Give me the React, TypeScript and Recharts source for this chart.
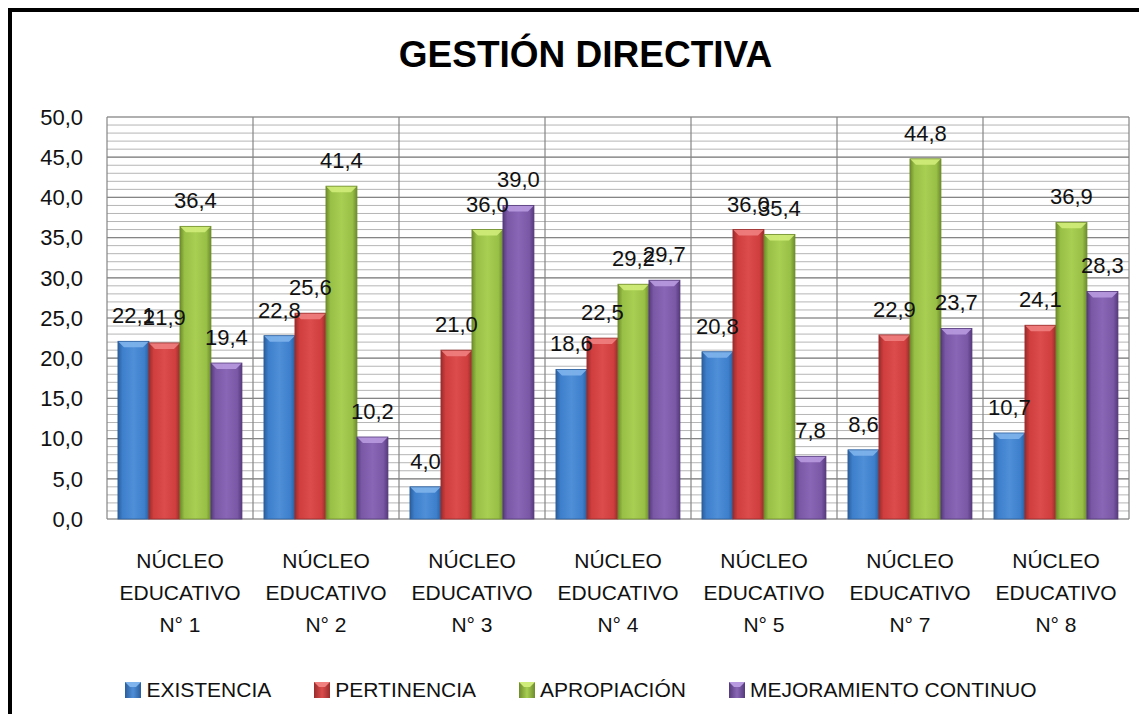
import React from 'react';
import {
  BarChart,
  Bar,
  XAxis,
  YAxis,
  CartesianGrid,
  Legend,
  LabelList,
} from 'recharts';

// ---------------------------------------------------------------------------
// Data
// ---------------------------------------------------------------------------

const CATEGORIES = [
  'NÚCLEO EDUCATIVO N° 1',
  'NÚCLEO EDUCATIVO N° 2',
  'NÚCLEO EDUCATIVO N° 3',
  'NÚCLEO EDUCATIVO N° 4',
  'NÚCLEO EDUCATIVO N° 5',
  'NÚCLEO EDUCATIVO N° 7',
  'NÚCLEO EDUCATIVO N° 8',
];

const EXISTENCIA = [22.1, 22.8, 4.0, 18.6, 20.8, 8.6, 10.7];
const PERTINENCIA = [21.9, 25.6, 21.0, 22.5, 36.0, 22.9, 24.1];
const APROPIACION = [36.4, 41.4, 36.0, 29.2, 35.4, 44.8, 36.9];
const MEJORAMIENTO = [19.4, 10.2, 39.0, 29.7, 7.8, 23.7, 28.3];

const Y_TICKS = [0, 5, 10, 15, 20, 25, 30, 35, 40, 45, 50];
const Y_MAX = 50;

const TITLE = 'GESTIÓN DIRECTIVA';

// ---------------------------------------------------------------------------
// Series styling
// ---------------------------------------------------------------------------

interface Tone {
  key: string;
  name: string;
  dark: string;
  mid: string;
  light: string;
  top: string;
}

const SERIES: Tone[] = [
  { key: 'existencia', name: 'EXISTENCIA', dark: '#2b5e9c', mid: '#3e7fcc', light: '#4f8fd8', top: '#7fb4ec' },
  { key: 'pertinencia', name: 'PERTINENCIA', dark: '#9a2c2c', mid: '#d03e3e', light: '#dc4c4c', top: '#f08080' },
  { key: 'apropiacion', name: 'APROPIACIÓN', dark: '#6e8c2c', mid: '#99c046', light: '#a8cf52', top: '#d0ec7a' },
  { key: 'mejoramiento', name: 'MEJORAMIENTO CONTINUO', dark: '#553a7c', mid: '#7b58a6', light: '#8a67b6', top: '#b89ae0' },
];

const data = CATEGORIES.map((c, i) => ({
  category: c,
  existencia: EXISTENCIA[i],
  pertinencia: PERTINENCIA[i],
  apropiacion: APROPIACION[i],
  mejoramiento: MEJORAMIENTO[i],
}));

const FONT = '"Liberation Sans", Arial, sans-serif';

const fmt = (v: number) => v.toFixed(1).replace('.', ',');

// ---------------------------------------------------------------------------
// Pieces
// ---------------------------------------------------------------------------

const BevelBar = (props: any) => {
  const { x, y, width, height, tone } = props;
  if (!height || height <= 0) return null;
  const b = Math.min(6, height / 2);
  return (
    <g>
      <rect x={x} y={y} width={width} height={height} fill={`url(#grad-${tone.key})`} />
      <polygon
        points={`${x},${y} ${x + width},${y} ${x + width - b},${y + b} ${x + b},${y + b}`}
        fill={tone.top}
        opacity={0.9}
      />
      <rect x={x} y={y} width={width} height={height} fill="none" stroke={tone.dark} strokeWidth={0.8} />
    </g>
  );
};

const CategoryTick = (props: any) => {
  const { x, y, payload } = props;
  const words = String(payload.value).split(' ');
  const lines = [words[0], words[1], words.slice(2).join(' ')];
  return (
    <g>
      {lines.map((l, i) => (
        <text
          key={i}
          x={x}
          y={y + 49 + i * 32}
          textAnchor="middle"
          fontSize={21}
          fontFamily={FONT}
          fill="#111"
        >
          {l}
        </text>
      ))}
    </g>
  );
};

const LegendContent = () => (
  <div
    style={{
      height: 30,
      display: 'flex',
      justifyContent: 'center',
      alignItems: 'center',
      gap: 43,
      paddingLeft: 21,
      fontFamily: FONT,
      fontSize: 21,
      color: '#111',
    }}
  >
    {SERIES.map((s) => (
      <div key={s.key} style={{ display: 'flex', alignItems: 'center' }}>
        <svg width={16} height={16} style={{ marginRight: 5 }}>
          <defs>
            <linearGradient id={`lg-${s.key}`} x1="0" y1="0" x2="1" y2="0">
              <stop offset="0%" stopColor={s.dark} />
              <stop offset="50%" stopColor={s.light} />
              <stop offset="100%" stopColor={s.dark} />
            </linearGradient>
          </defs>
          <rect x={0} y={0} width={16} height={16} fill={`url(#lg-${s.key})`} />
          <polygon points="0,0 16,0 11,5 5,5" fill={s.top} />
        </svg>
        <span>{s.name}</span>
      </div>
    ))}
  </div>
);

// ---------------------------------------------------------------------------
// Component
// ---------------------------------------------------------------------------

const WIDTH = 1127;
const HEIGHT = 702;

export default function App() {
  return (
    <div
      style={{
        position: 'relative',
        width: WIDTH + 4,
        height: HEIGHT + 4,
        boxSizing: 'border-box',
        borderTop: '4px solid #000',
        borderLeft: '4px solid #000',
        background: '#fff',
      }}
    >
      <div
        style={{
          position: 'absolute',
          top: 24,
          left: 0,
          width: WIDTH,
          textAlign: 'center',
          fontFamily: FONT,
          fontWeight: 'bold',
          fontSize: 37,
          lineHeight: '37px',
          color: '#000',
          paddingLeft: 20,
          boxSizing: 'border-box',
        }}
      >
        {TITLE}
      </div>
      <BarChart
        width={WIDTH}
        height={HEIGHT}
        data={data}
        margin={{ top: 105, right: 10, left: 0, bottom: 9 }}
        barCategoryGap="7.5%"
        barGap={0}
      >
        <defs>
          {SERIES.map((s) => (
            <linearGradient key={s.key} id={`grad-${s.key}`} x1="0" y1="0" x2="1" y2="0">
              <stop offset="0%" stopColor={s.dark} />
              <stop offset="15%" stopColor={s.mid} />
              <stop offset="50%" stopColor={s.light} />
              <stop offset="85%" stopColor={s.mid} />
              <stop offset="100%" stopColor={s.dark} />
            </linearGradient>
          ))}
        </defs>
        {/* minor grid: one line per unit */}
        <CartesianGrid
          vertical={false}
          stroke="#b5b5b5"
          horizontalCoordinatesGenerator={({ offset }: any) =>
            Array.from({ length: Y_MAX + 1 }, (_, k) => offset.top + (offset.height * k) / Y_MAX)
          }
        />
        {/* major grid: every 5 units, plus category boundaries */}
        <CartesianGrid
          stroke="#858585"
          strokeWidth={1.2}
          verticalCoordinatesGenerator={({ offset }: any) =>
            Array.from(
              { length: CATEGORIES.length + 1 },
              (_, i) => offset.left + (offset.width * i) / CATEGORIES.length,
            )
          }
        />
        <XAxis
          dataKey="category"
          height={156}
          tickSize={0}
          tickMargin={0}
          axisLine={false}
          tickLine={false}
          tick={<CategoryTick />}
          interval={0}
        />
        <YAxis
          domain={[0, Y_MAX]}
          ticks={Y_TICKS}
          width={95}
          tickSize={0}
          tickMargin={24}
          axisLine={false}
          tickLine={false}
          tickFormatter={fmt}
          tick={{ fontSize: 22, fill: '#111', fontFamily: FONT }}
        />
        <Legend verticalAlign="bottom" content={<LegendContent />} />
        {SERIES.map((s) => (
          <Bar
            key={s.key}
            dataKey={s.key}
            name={s.name}
            fill={s.mid}
            isAnimationActive={false}
            shape={(p: any) => <BevelBar {...p} tone={s} />}
          >
            <LabelList
              dataKey={s.key}
              position="top"
              offset={18}
              formatter={(v: any) => fmt(Number(v))}
              style={{ fontSize: 22, fill: '#111', fontFamily: FONT }}
            />
          </Bar>
        ))}
      </BarChart>
    </div>
  );
}
